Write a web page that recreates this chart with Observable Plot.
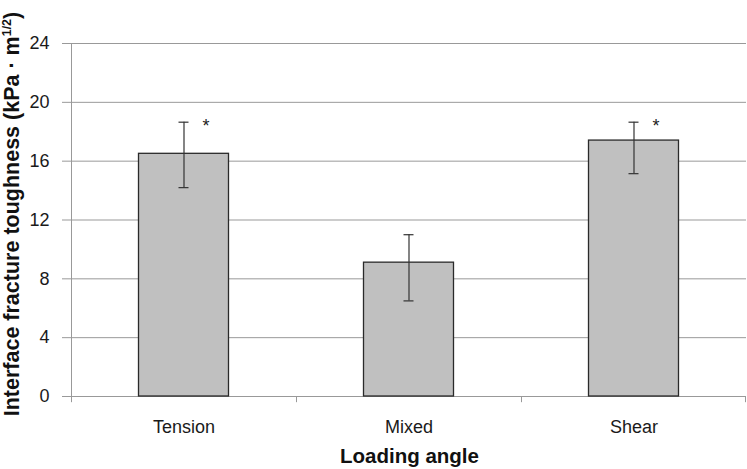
<!DOCTYPE html>
<html><head><meta charset="utf-8">
<script src="https://cdn.jsdelivr.net/npm/d3@7"></script>
<script src="https://cdn.jsdelivr.net/npm/@observablehq/plot@0.6"></script>
<style>body{margin:0;background:#fff;font-family:"Liberation Sans",Arial,sans-serif}</style>
</head><body><div id="chart"></div>
<script>
const categories = ["Tension", "Mixed", "Shear"];
const means = [16.5, 9.1, 17.4];
const lower = [14.2, 6.5, 15.15];
const upper = [18.65, 11.0, 18.65];
const significant = [true, false, true];
const yTicks = [0, 4, 8, 12, 16, 20, 24];

const data = categories.map((c, i) => ({cat: c, mean: means[i], lo: lower[i], hi: upper[i], sig: significant[i]}));

const W = 747, H = 469, ML = 71, MR = 1, MT = 43, MB = 73;
const bw = (W - ML - MR) / categories.length;

const plot = Plot.plot({
  width: W, height: H,
  marginLeft: ML, marginRight: MR, marginTop: MT, marginBottom: MB,
  style: {fontFamily: "Liberation Sans, Arial, sans-serif", fontSize: "18px", color: "#1a1a1a", background: "#fff"},
  x: {domain: categories, padding: 0, label: null, tickSize: 0, tickPadding: 24},
  y: {domain: [0, 24], ticks: yTicks, label: null, tickSize: 9, tickPadding: 13},
  marks: [
    Plot.gridY(yTicks, {stroke: "#999", strokeOpacity: 1, strokeWidth: 1}),
    Plot.ruleX([0], {x: () => categories[0], dx: -bw / 2, y1: 0, y2: 24, stroke: "#999"}),
    Plot.ruleX(categories, {x: d => d, dx: -bw / 2, y1: 0, y2: -0.42, stroke: "#999"}),
    Plot.ruleX([categories[categories.length - 1]], {x: d => d, dx: bw / 2 - 1, y1: 0, y2: -0.42, stroke: "#999"}),
    Plot.barY(data, {x: "cat", y: "mean", fill: "#c0c0c0", stroke: "#2a2a2a", strokeWidth: 1.3, insetLeft: bw * 0.3, insetRight: bw * 0.3}),
    Plot.ruleX(data, {x: "cat", y1: "lo", y2: "hi", stroke: "#333", strokeWidth: 1.2}),
    Plot.tickY(data, {x: "cat", y: "lo", stroke: "#333", strokeWidth: 1.2, insetLeft: bw / 2 - 5, insetRight: bw / 2 - 5}),
    Plot.tickY(data, {x: "cat", y: "hi", stroke: "#333", strokeWidth: 1.2, insetLeft: bw / 2 - 5, insetRight: bw / 2 - 5}),
    Plot.text(data.filter(d => d.sig), {x: "cat", y: "hi", text: () => "*", dx: 22, dy: 4, fontSize: 18, fill: "#222"})
  ]
});

const svg = d3.select(plot);
svg.selectAll("[aria-label='y-axis tick'] path, [aria-label='y-axis tick']").attr("stroke", "#999");
svg.append("text")
  .attr("x", ML + (W - ML - MR) / 2 + 1).attr("y", 463)
  .attr("text-anchor", "middle")
  .attr("font-weight", "bold").attr("font-size", 20.5).attr("fill", "#111")
  .text("Loading angle");
const yt = svg.append("text")
  .attr("transform", `translate(19,214) rotate(-90)`)
  .attr("text-anchor", "middle")
  .attr("font-weight", "bold").attr("font-size", 21.5).attr("fill", "#111");
yt.append("tspan").text("Interface fracture toughness (kPa · m");
yt.append("tspan").attr("font-size", 12.5).attr("dy", -8).text("1/2");
yt.append("tspan").attr("dy", 8).text(")");

document.getElementById("chart").appendChild(plot);
</script></body></html>
